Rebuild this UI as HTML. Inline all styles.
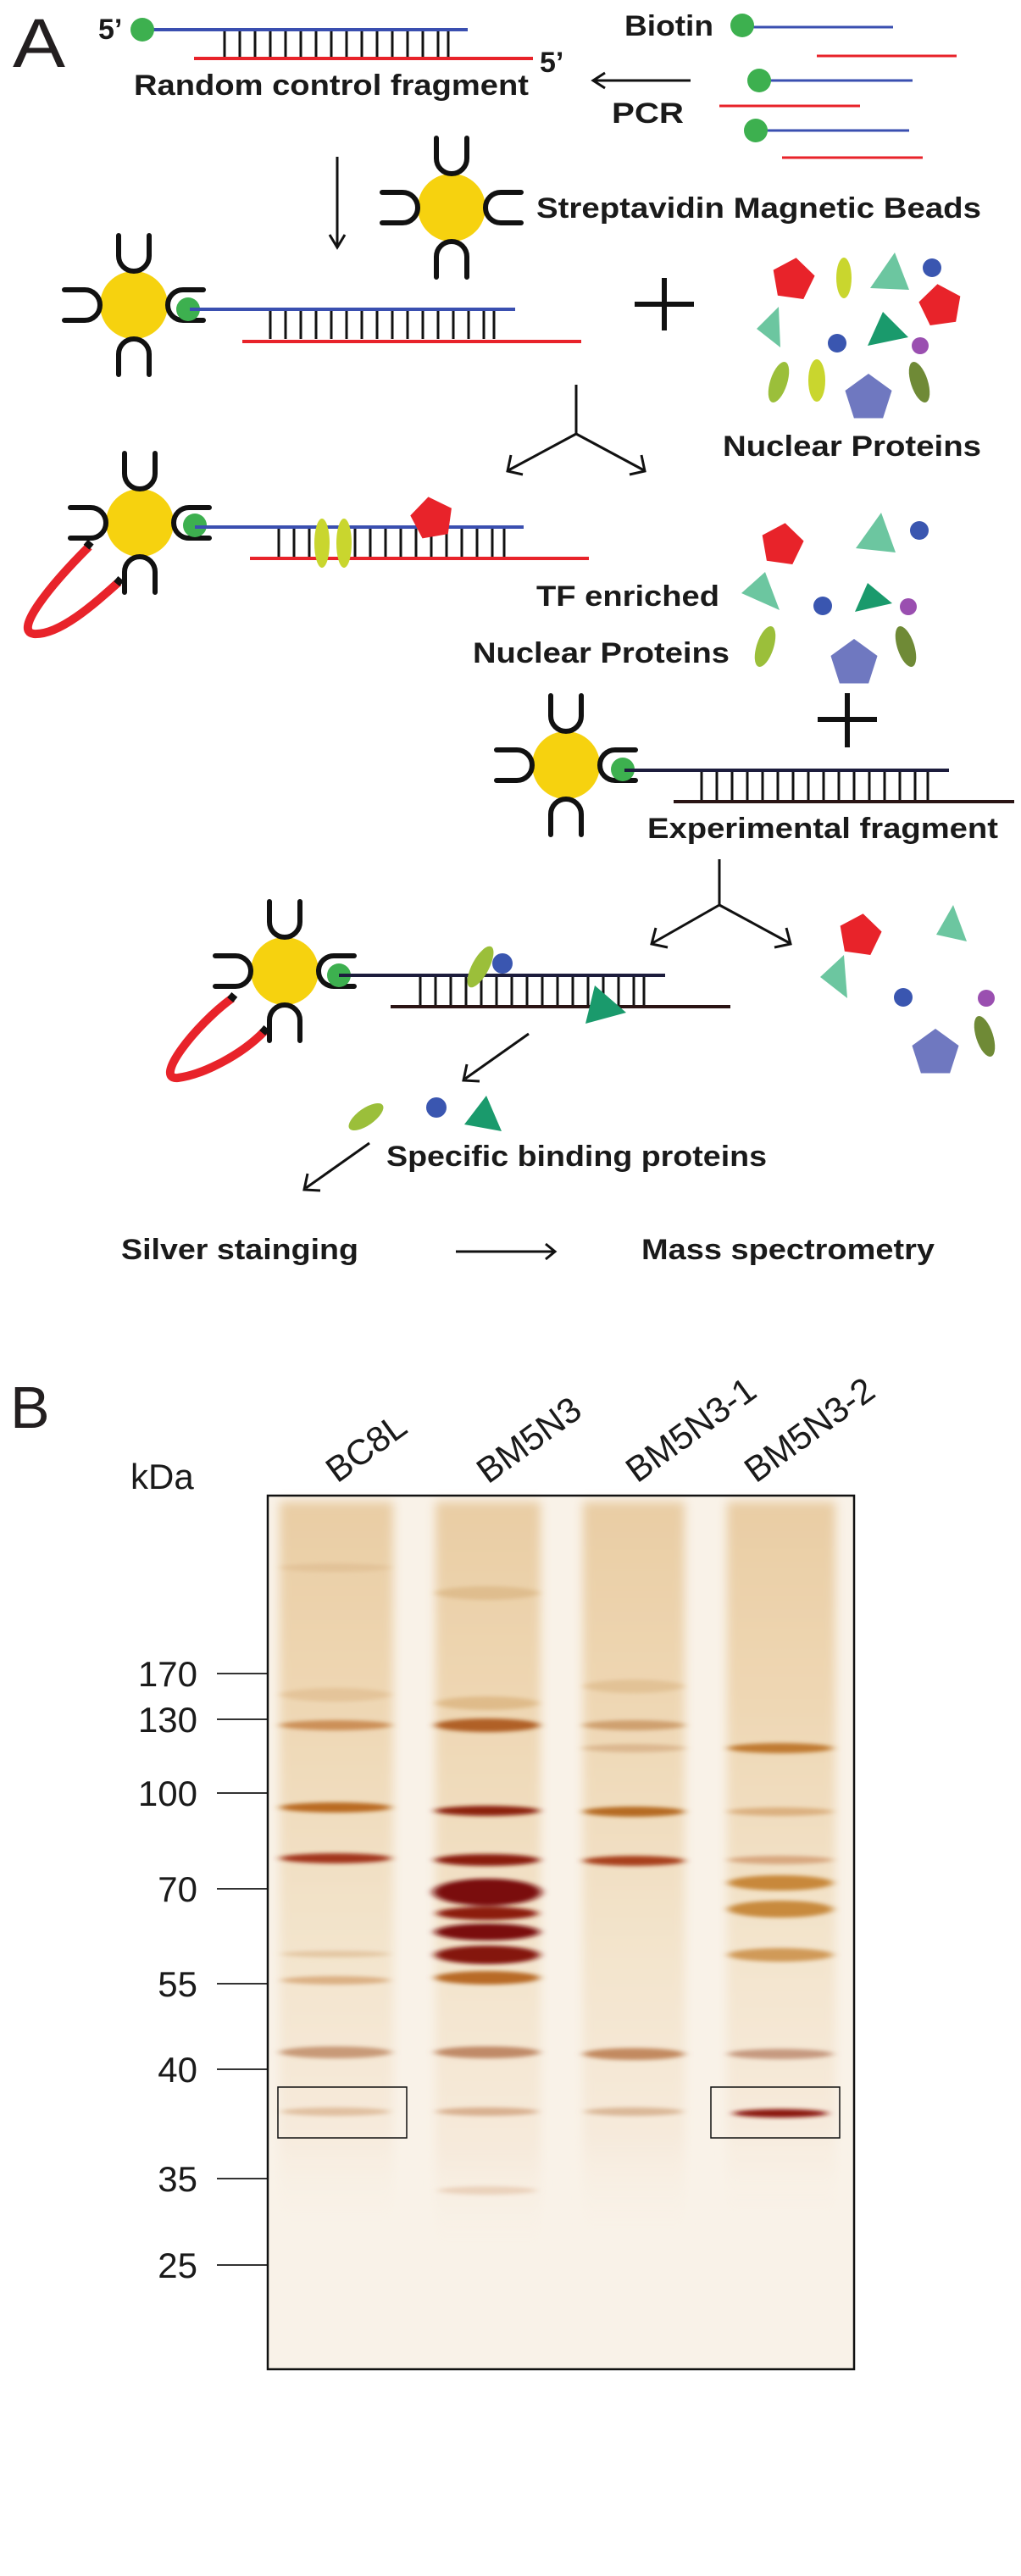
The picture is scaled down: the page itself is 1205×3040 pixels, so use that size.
<!DOCTYPE html>
<html><head><meta charset="utf-8"><style>
html,body{margin:0;padding:0;background:#fff;}
svg{display:block;}
.t{font-family:"Liberation Sans",sans-serif;font-weight:bold;font-size:34px;fill:#1a1a1a;}
.g{font-family:"Liberation Sans",sans-serif;font-size:42px;fill:#1a1a1a;}
</style></head><body>
<svg width="1205" height="3040" viewBox="0 0 1205 3040" xmlns="http://www.w3.org/2000/svg">
<defs>
<path id="cup" d="M-18,-44 L-18,-20 A18 18 0 0 0 18,-20 L18,-44" fill="none" stroke="#111" stroke-width="6" stroke-linecap="round"/>
<g id="bead">
<circle r="40" fill="#f6d20f"/>
<use href="#cup" transform="translate(0,-38)"/>
<use href="#cup" transform="rotate(90) translate(0,-38)"/>
<use href="#cup" transform="rotate(180) translate(0,-38)"/>
<use href="#cup" transform="rotate(270) translate(0,-38)"/>
</g>
<polygon id="pent" points="0,-20 19,-6.2 11.8,16.2 -11.8,16.2 -19,-6.2"/>
<filter id="bl" x="-20%" y="-200%" width="140%" height="500%"><feGaussianBlur stdDeviation="5 2.5"/></filter>
<filter id="bl2" x="-20%" y="-20%" width="140%" height="140%"><feGaussianBlur stdDeviation="6"/></filter>
<linearGradient id="lane" x1="0" y1="0" x2="0" y2="1">
<stop offset="0" stop-color="#e9cda4"/>
<stop offset="0.25" stop-color="#eed6b2"/>
<stop offset="0.6" stop-color="#f3e4cc"/>
<stop offset="0.85" stop-color="#f6eadb"/>
<stop offset="1" stop-color="#f9f2e8" stop-opacity="0"/>
</linearGradient>
</defs>

<!-- Panel A -->
<text x="15" y="79" font-family="Liberation Sans,sans-serif" font-size="82" fill="#231f20" textLength="62" lengthAdjust="spacingAndGlyphs">A</text>
<text class="t" x="116" y="46" font-size="30">5’</text>
<line x1="168" y1="35" x2="552" y2="35" stroke="#3a4fb0" stroke-width="4"/>
<g stroke="#111" stroke-width="3">
<line x1="265" y1="37" x2="265" y2="68"/><line x1="283" y1="37" x2="283" y2="68"/><line x1="301" y1="37" x2="301" y2="68"/><line x1="319" y1="37" x2="319" y2="68"/><line x1="337" y1="37" x2="337" y2="68"/><line x1="355" y1="37" x2="355" y2="68"/><line x1="373" y1="37" x2="373" y2="68"/><line x1="391" y1="37" x2="391" y2="68"/><line x1="409" y1="37" x2="409" y2="68"/><line x1="427" y1="37" x2="427" y2="68"/><line x1="445" y1="37" x2="445" y2="68"/><line x1="463" y1="37" x2="463" y2="68"/><line x1="481" y1="37" x2="481" y2="68"/><line x1="499" y1="37" x2="499" y2="68"/><line x1="517" y1="37" x2="517" y2="68"/><line x1="529" y1="37" x2="529" y2="68"/>
</g>
<circle cx="168" cy="35" r="14" fill="#3db04f"/>
<line x1="229" y1="69" x2="629" y2="69" stroke="#e8232a" stroke-width="4"/>
<text class="t" x="637" y="85" font-size="30">5’</text>
<text class="t" x="158" y="112" textLength="466" lengthAdjust="spacingAndGlyphs">Random control fragment</text>

<text class="t" x="737" y="42" textLength="105" lengthAdjust="spacingAndGlyphs">Biotin</text>
<line x1="876" y1="32" x2="1054" y2="32" stroke="#3a4fb0" stroke-width="3"/>
<circle cx="876" cy="30" r="14" fill="#3db04f"/>
<line x1="964" y1="66" x2="1129" y2="66" stroke="#e8232a" stroke-width="3"/>
<line x1="896" y1="95" x2="1077" y2="95" stroke="#3a4fb0" stroke-width="3"/>
<circle cx="896" cy="95" r="14" fill="#3db04f"/>
<line x1="849" y1="125" x2="1015" y2="125" stroke="#e8232a" stroke-width="3"/>
<line x1="892" y1="154" x2="1073" y2="154" stroke="#3a4fb0" stroke-width="3"/>
<circle cx="892" cy="154" r="14" fill="#3db04f"/>
<line x1="923" y1="186" x2="1089" y2="186" stroke="#e8232a" stroke-width="3"/>

<g stroke="#111" stroke-width="3" fill="none">
<line x1="701" y1="95" x2="815" y2="95"/><polyline points="714,86 700,95 714,104"/>
<line x1="398" y1="185" x2="398" y2="290"/><polyline points="389,277 398,292 407,277"/>
</g>
<text class="t" x="722" y="145" textLength="85" lengthAdjust="spacingAndGlyphs">PCR</text>

<use href="#bead" transform="translate(533,245)"/>
<text class="t" x="633" y="257" textLength="525" lengthAdjust="spacingAndGlyphs">Streptavidin Magnetic Beads</text>

<!-- bead 2 -->
<use href="#bead" transform="translate(158,360)"/>
<circle cx="222" cy="365" r="14" fill="#3db04f"/>
<line x1="224" y1="365" x2="608" y2="365" stroke="#3a4fb0" stroke-width="4"/>
<g stroke="#111" stroke-width="3">
<line x1="319" y1="367" x2="319" y2="400"/><line x1="337" y1="367" x2="337" y2="400"/><line x1="355" y1="367" x2="355" y2="400"/><line x1="373" y1="367" x2="373" y2="400"/><line x1="391" y1="367" x2="391" y2="400"/><line x1="409" y1="367" x2="409" y2="400"/><line x1="427" y1="367" x2="427" y2="400"/><line x1="445" y1="367" x2="445" y2="400"/><line x1="463" y1="367" x2="463" y2="400"/><line x1="481" y1="367" x2="481" y2="400"/><line x1="499" y1="367" x2="499" y2="400"/><line x1="517" y1="367" x2="517" y2="400"/><line x1="535" y1="367" x2="535" y2="400"/><line x1="553" y1="367" x2="553" y2="400"/><line x1="571" y1="367" x2="571" y2="400"/><line x1="583" y1="367" x2="583" y2="400"/>
</g>
<line x1="286" y1="403" x2="686" y2="403" stroke="#e8232a" stroke-width="4"/>
<g stroke="#111" stroke-width="6"><line x1="749" y1="359" x2="819" y2="359"/><line x1="784" y1="328" x2="784" y2="390"/></g>

<!-- cluster 1 -->
<use href="#pent" fill="#e8232a" transform="translate(936,330) rotate(8) scale(1.3)"/>
<ellipse cx="996" cy="328" rx="9" ry="24" fill="#c9d62e"/>
<polygon points="1027,340 1056,298 1073,342" fill="#6cc6a0"/>
<circle cx="1100" cy="316" r="11" fill="#3a56b0"/>
<use href="#pent" fill="#e8232a" transform="translate(1110,361) rotate(-8) scale(1.3)"/>
<polygon points="893,388 919,362 921,410" fill="#6cc6a0"/>
<circle cx="988" cy="405" r="11" fill="#3a56b0"/>
<polygon points="1024,408 1042,368 1072,398" fill="#1a9a6c"/>
<circle cx="1086" cy="408" r="10" fill="#9a4fb0"/>
<ellipse cx="919" cy="451" rx="10" ry="25" fill="#9bbf3a" transform="rotate(18 919 451)"/>
<ellipse cx="964" cy="449" rx="10" ry="25" fill="#c9d62e"/>
<use href="#pent" fill="#6f78c0" transform="translate(1025,470) scale(1.45)"/>
<ellipse cx="1085" cy="451" rx="10" ry="25" fill="#6f8a36" transform="rotate(-18 1085 451)"/>
<text class="t" x="853" y="538" textLength="305" lengthAdjust="spacingAndGlyphs">Nuclear Proteins</text>

<!-- split arrow 1 -->
<g stroke="#111" stroke-width="3" fill="none">
<line x1="680" y1="454" x2="680" y2="512"/><line x1="680" y1="512" x2="600" y2="555"/><line x1="680" y1="512" x2="760" y2="555"/>
<polyline points="603,537 599,556 617,560"/><polyline points="757,537 761,556 743,560"/>
</g>

<!-- bead 3 -->
<path d="M105,645 C60,690 15,745 40,748 C70,750 112,712 140,687" fill="none" stroke="#e8232a" stroke-width="10" stroke-linecap="butt"/>
<rect x="100" y="639" width="9" height="8" fill="#111" transform="rotate(40 105 643)"/>
<rect x="135" y="682" width="9" height="8" fill="#111" transform="rotate(40 140 687)"/>
<use href="#bead" transform="translate(165,617)"/>
<circle cx="230" cy="620" r="14" fill="#3db04f"/>
<line x1="230" y1="622" x2="618" y2="622" stroke="#3a4fb0" stroke-width="4"/>
<g stroke="#111" stroke-width="3">
<line x1="329" y1="624" x2="329" y2="657"/><line x1="347" y1="624" x2="347" y2="657"/><line x1="365" y1="624" x2="365" y2="657"/><line x1="383" y1="624" x2="383" y2="657"/><line x1="401" y1="624" x2="401" y2="657"/><line x1="419" y1="624" x2="419" y2="657"/><line x1="437" y1="624" x2="437" y2="657"/><line x1="455" y1="624" x2="455" y2="657"/><line x1="473" y1="624" x2="473" y2="657"/><line x1="491" y1="624" x2="491" y2="657"/><line x1="509" y1="624" x2="509" y2="657"/><line x1="527" y1="624" x2="527" y2="657"/><line x1="545" y1="624" x2="545" y2="657"/><line x1="563" y1="624" x2="563" y2="657"/><line x1="581" y1="624" x2="581" y2="657"/><line x1="595" y1="624" x2="595" y2="657"/>
</g>
<line x1="295" y1="659" x2="695" y2="659" stroke="#e8232a" stroke-width="4"/>
<ellipse cx="380" cy="641" rx="9" ry="29" fill="#c9d62e"/>
<ellipse cx="406" cy="641" rx="9" ry="29" fill="#c9d62e"/>
<use href="#pent" fill="#e8232a" transform="translate(510,612) rotate(-10) scale(1.3)"/>

<!-- cluster 2 -->
<use href="#pent" fill="#e8232a" transform="translate(923,643) rotate(8) scale(1.3)"/>
<polygon points="1010,647 1040,605 1057,652" fill="#6cc6a0"/>
<circle cx="1085" cy="626" r="11" fill="#3a56b0"/>
<polygon points="875,700 903,675 920,720" fill="#6cc6a0"/>
<circle cx="971" cy="715" r="11" fill="#3a56b0"/>
<polygon points="1009,722 1024,688 1053,712" fill="#1a9a6c"/>
<circle cx="1072" cy="716" r="10" fill="#9a4fb0"/>
<ellipse cx="903" cy="763" rx="10" ry="25" fill="#9bbf3a" transform="rotate(18 903 763)"/>
<use href="#pent" fill="#6f78c0" transform="translate(1008,783) scale(1.45)"/>
<ellipse cx="1069" cy="763" rx="10" ry="25" fill="#6f8a36" transform="rotate(-18 1069 763)"/>
<text class="t" x="633" y="715" textLength="216" lengthAdjust="spacingAndGlyphs">TF enriched</text>
<text class="t" x="558" y="782" textLength="303" lengthAdjust="spacingAndGlyphs">Nuclear Proteins</text>

<g stroke="#111" stroke-width="6"><line x1="965" y1="849" x2="1035" y2="849"/><line x1="1000" y1="818" x2="1000" y2="882"/></g>

<!-- bead 4 -->
<use href="#bead" transform="translate(668,903)"/>
<circle cx="735" cy="908" r="14" fill="#3db04f"/>
<line x1="737" y1="909" x2="1120" y2="909" stroke="#1c1c3c" stroke-width="4"/>
<g stroke="#111" stroke-width="3">
<line x1="828" y1="911" x2="828" y2="944"/><line x1="846" y1="911" x2="846" y2="944"/><line x1="864" y1="911" x2="864" y2="944"/><line x1="882" y1="911" x2="882" y2="944"/><line x1="900" y1="911" x2="900" y2="944"/><line x1="918" y1="911" x2="918" y2="944"/><line x1="936" y1="911" x2="936" y2="944"/><line x1="954" y1="911" x2="954" y2="944"/><line x1="972" y1="911" x2="972" y2="944"/><line x1="990" y1="911" x2="990" y2="944"/><line x1="1008" y1="911" x2="1008" y2="944"/><line x1="1026" y1="911" x2="1026" y2="944"/><line x1="1044" y1="911" x2="1044" y2="944"/><line x1="1062" y1="911" x2="1062" y2="944"/><line x1="1080" y1="911" x2="1080" y2="944"/><line x1="1095" y1="911" x2="1095" y2="944"/>
</g>
<line x1="795" y1="946" x2="1197" y2="946" stroke="#2a1414" stroke-width="4"/>
<text class="t" x="764" y="989" textLength="414" lengthAdjust="spacingAndGlyphs">Experimental fragment</text>

<!-- split arrow 2 -->
<g stroke="#111" stroke-width="3" fill="none">
<line x1="849" y1="1014" x2="849" y2="1068"/><line x1="849" y1="1068" x2="770" y2="1113"/><line x1="849" y1="1068" x2="932" y2="1113"/>
<polyline points="774,1095 769,1114 788,1118"/><polyline points="928,1095 933,1114 914,1118"/>
</g>

<!-- bead 5 -->
<path d="M274,1178 C230,1210 180,1275 210,1272 C240,1268 285,1245 312,1217" fill="none" stroke="#e8232a" stroke-width="10"/>
<rect x="269" y="1173" width="9" height="8" fill="#111" transform="rotate(40 274 1178)"/>
<rect x="307" y="1212" width="9" height="8" fill="#111" transform="rotate(40 312 1217)"/>
<use href="#bead" transform="translate(336,1146)"/>
<circle cx="400" cy="1151" r="14" fill="#3db04f"/>
<line x1="400" y1="1151" x2="785" y2="1151" stroke="#1c1c3c" stroke-width="4"/>
<g stroke="#111" stroke-width="3">
<line x1="496" y1="1153" x2="496" y2="1187"/><line x1="514" y1="1153" x2="514" y2="1187"/><line x1="532" y1="1153" x2="532" y2="1187"/><line x1="550" y1="1153" x2="550" y2="1187"/><line x1="568" y1="1153" x2="568" y2="1187"/><line x1="586" y1="1153" x2="586" y2="1187"/><line x1="604" y1="1153" x2="604" y2="1187"/><line x1="622" y1="1153" x2="622" y2="1187"/><line x1="640" y1="1153" x2="640" y2="1187"/><line x1="658" y1="1153" x2="658" y2="1187"/><line x1="676" y1="1153" x2="676" y2="1187"/><line x1="694" y1="1153" x2="694" y2="1187"/><line x1="712" y1="1153" x2="712" y2="1187"/><line x1="730" y1="1153" x2="730" y2="1187"/><line x1="748" y1="1153" x2="748" y2="1187"/><line x1="760" y1="1153" x2="760" y2="1187"/>
</g>
<line x1="461" y1="1188" x2="862" y2="1188" stroke="#2a1414" stroke-width="4"/>
<ellipse cx="567" cy="1141" rx="27" ry="10" fill="#9bbf3a" transform="rotate(-62 567 1141)"/>
<circle cx="593" cy="1137" r="12" fill="#3a56b0"/>
<polygon points="702,1163 739,1195 691,1208" fill="#1a9a6c"/>

<!-- cluster 3 -->
<use href="#pent" fill="#e8232a" transform="translate(1015,1104) rotate(8) scale(1.3)"/>
<polygon points="1105,1103 1125,1068 1141,1111" fill="#6cc6a0"/>
<polygon points="968,1153 996,1127 1000,1178" fill="#6cc6a0"/>
<circle cx="1066" cy="1177" r="11" fill="#3a56b0"/>
<circle cx="1164" cy="1178" r="10" fill="#9a4fb0"/>
<ellipse cx="1162" cy="1223" rx="10" ry="25" fill="#6f8a36" transform="rotate(-18 1162 1223)"/>
<use href="#pent" fill="#6f78c0" transform="translate(1104,1243) scale(1.45)"/>

<g stroke="#111" stroke-width="3" fill="none">
<line x1="624" y1="1220" x2="549" y2="1273"/><polyline points="551,1256 547,1275 566,1276"/>
<line x1="436" y1="1349" x2="361" y2="1402"/><polyline points="363,1385 359,1404 378,1405"/>
<line x1="538" y1="1477" x2="654" y2="1477"/><polyline points="644,1468 655,1477 644,1486"/>
</g>
<ellipse cx="432" cy="1318" rx="24" ry="10" fill="#9bbf3a" transform="rotate(-35 432 1318)"/>
<circle cx="515" cy="1307" r="12" fill="#3a56b0"/>
<polygon points="574,1293 592,1335 548,1327" fill="#1a9a6c"/>
<text class="t" x="456" y="1376" textLength="449" lengthAdjust="spacingAndGlyphs">Specific binding proteins</text>
<text class="t" x="143" y="1486" textLength="280" lengthAdjust="spacingAndGlyphs">Silver stainging</text>
<text class="t" x="757" y="1486" textLength="346" lengthAdjust="spacingAndGlyphs">Mass spectrometry</text>

<!-- Panel B -->
<text x="12" y="1685" font-family="Liberation Sans,sans-serif" font-size="70" fill="#231f20">B</text>
<text class="g" x="154" y="1757" font-size="40">kDa</text>
<text class="g" transform="translate(398,1751) rotate(-36)" font-size="44">BC8L</text>
<text class="g" transform="translate(576,1752) rotate(-36)" font-size="44">BM5N3</text>
<text class="g" transform="translate(752,1751) rotate(-36)" font-size="44">BM5N3-1</text>
<text class="g" transform="translate(892,1751) rotate(-36)" font-size="44">BM5N3-2</text>

<g text-anchor="end">
<text class="g" x="233" y="1990">170</text>
<text class="g" x="233" y="2044">130</text>
<text class="g" x="233" y="2131">100</text>
<text class="g" x="233" y="2244">70</text>
<text class="g" x="233" y="2356">55</text>
<text class="g" x="233" y="2457">40</text>
<text class="g" x="233" y="2586">35</text>
<text class="g" x="233" y="2688">25</text>
</g>
<g stroke="#333" stroke-width="2">
<line x1="256" y1="1975" x2="315" y2="1975"/><line x1="256" y1="2029" x2="315" y2="2029"/><line x1="256" y1="2116" x2="315" y2="2116"/><line x1="256" y1="2229" x2="315" y2="2229"/><line x1="256" y1="2341" x2="315" y2="2341"/><line x1="256" y1="2442" x2="315" y2="2442"/><line x1="256" y1="2571" x2="315" y2="2571"/><line x1="256" y1="2673" x2="315" y2="2673"/>
</g>

<rect x="316" y="1765" width="692" height="1031" fill="#f9f2e8"/>
<g filter="url(#bl2)">
<rect x="330" y="1772" width="134" height="870" fill="url(#lane)"/>
<rect x="514" y="1772" width="124" height="900" fill="url(#lane)"/>
<rect x="688" y="1772" width="120" height="880" fill="url(#lane)"/>
<rect x="858" y="1772" width="128" height="860" fill="url(#lane)"/>
</g>
<g filter="url(#bl)">
<ellipse cx="396" cy="1850" rx="64" ry="5" fill="#e2c298"/>
<ellipse cx="396" cy="2000" rx="64" ry="8" fill="#e4c49a"/>
<ellipse cx="396" cy="2036" rx="66" ry="6" fill="#cc9058"/>
<ellipse cx="396" cy="2133" rx="66" ry="6" fill="#b96a22"/>
<ellipse cx="396" cy="2193" rx="66" ry="6" fill="#a2361a"/>
<ellipse cx="396" cy="2306" rx="64" ry="4" fill="#e4c8a4"/>
<ellipse cx="396" cy="2337" rx="64" ry="5" fill="#dbb084"/>
<ellipse cx="396" cy="2422" rx="66" ry="7" fill="#c89a78"/>
<ellipse cx="396" cy="2492" rx="64" ry="5" fill="#e0c0a0"/>
<ellipse cx="575" cy="1880" rx="60" ry="8" fill="#dfbd8e"/>
<ellipse cx="575" cy="2010" rx="60" ry="8" fill="#dfbb8a"/>
<ellipse cx="575" cy="2036" rx="62" ry="8" fill="#b06028"/>
<ellipse cx="575" cy="2137" rx="62" ry="6" fill="#8c2010"/>
<ellipse cx="575" cy="2195" rx="62" ry="7" fill="#8a1c10"/>
<ellipse cx="575" cy="2233" rx="64" ry="16" fill="#7a0e0a"/>
<ellipse cx="575" cy="2258" rx="60" ry="8" fill="#8c1a10"/>
<ellipse cx="575" cy="2280" rx="62" ry="10" fill="#7a0e0a"/>
<ellipse cx="575" cy="2307" rx="62" ry="11" fill="#841410"/>
<ellipse cx="575" cy="2334" rx="62" ry="8" fill="#b86a28"/>
<ellipse cx="575" cy="2422" rx="62" ry="7" fill="#c08a68"/>
<ellipse cx="575" cy="2492" rx="60" ry="5" fill="#d8b090"/>
<ellipse cx="575" cy="2585" rx="58" ry="5" fill="#ead2bc"/>
<ellipse cx="748" cy="1990" rx="58" ry="8" fill="#e2c296"/>
<ellipse cx="748" cy="2036" rx="60" ry="6" fill="#cfa070"/>
<ellipse cx="748" cy="2063" rx="60" ry="5" fill="#dcb890"/>
<ellipse cx="748" cy="2138" rx="60" ry="6" fill="#b56a22"/>
<ellipse cx="748" cy="2196" rx="60" ry="6" fill="#a8401a"/>
<ellipse cx="748" cy="2424" rx="60" ry="7" fill="#c28a60"/>
<ellipse cx="748" cy="2492" rx="58" ry="5" fill="#dab898"/>
<ellipse cx="921" cy="2063" rx="62" ry="6" fill="#c07a30"/>
<ellipse cx="921" cy="2138" rx="62" ry="5" fill="#dbb080"/>
<ellipse cx="921" cy="2195" rx="62" ry="5" fill="#d8a880"/>
<ellipse cx="921" cy="2222" rx="62" ry="9" fill="#c8883a"/>
<ellipse cx="921" cy="2253" rx="62" ry="10" fill="#c88a3c"/>
<ellipse cx="921" cy="2307" rx="62" ry="8" fill="#d09a58"/>
<ellipse cx="921" cy="2424" rx="62" ry="6" fill="#c69a80"/>
<ellipse cx="921" cy="2494" rx="56" ry="5" fill="#8a1810"/>
</g>
<rect x="316" y="1765" width="692" height="1031" fill="none" stroke="#111" stroke-width="2.5"/>
<rect x="328" y="2463" width="152" height="60" fill="none" stroke="#111" stroke-width="1.5"/>
<rect x="839" y="2463" width="152" height="60" fill="none" stroke="#111" stroke-width="1.5"/>
</svg>
</body></html>
